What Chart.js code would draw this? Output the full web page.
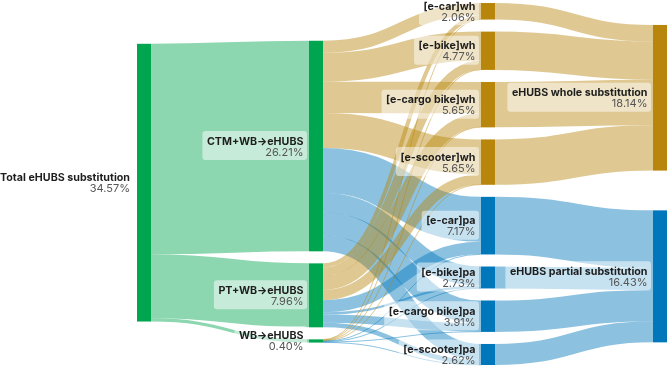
<!DOCTYPE html>
<html>
<head>
<meta charset="utf-8">
<script src="https://cdn.jsdelivr.net/npm/chart.js@4.4.1/dist/chart.umd.min.js"></script>
<style>
  html, body { margin: 0; padding: 0; background: #fff; }
  #wrap { width: 669px; height: 367px; }
</style>
</head>
<body>
<div id="wrap"><canvas id="chart"></canvas></div>
<script>
// nodes, listed column by column
const nodeNames = [
  "Total eHUBS substitution",
  "CTM+WB→eHUBS", "PT+WB→eHUBS", "WB→eHUBS",
  "[e-car]wh", "[e-bike]wh", "[e-cargo bike]wh", "[e-scooter]wh",
  "[e-car]pa", "[e-bike]pa", "[e-cargo bike]pa", "[e-scooter]pa",
  "eHUBS whole substitution", "eHUBS partial substitution"
];
const nodeShares = [34.57, 26.21, 7.96, 0.40, 2.06, 4.77, 5.65, 5.65, 7.17, 2.73, 3.91, 2.62, 18.14, 16.43];
const nodeColumn = [0, 1, 1, 1, 2, 2, 2, 2, 2, 2, 2, 2, 3, 3];
const nodeGroup = ["hub", "hub", "hub", "hub", "wh", "wh", "wh", "wh", "pa", "pa", "pa", "pa", "wh", "pa"];

// flows (% of all trips)
const totalToChannel = [26.21, 7.96, 0.40];
// order: e-car wh, e-bike wh, e-cargo wh, e-scooter wh, e-car pa, e-bike pa, e-cargo pa, e-scooter pa
const ctmToMode = [1.50, 3.60, 3.90, 4.35, 5.60, 2.40, 2.86, 2.00];
const ptToMode  = [0.51, 1.12, 1.70, 1.25, 1.52, 0.28, 1.00, 0.57];
const wbToMode  = [0.05, 0.05, 0.05, 0.05, 0.05, 0.05, 0.05, 0.05];
const modeToSubstitution = [2.06, 4.77, 5.65, 5.65, 7.17, 2.73, 3.91, 2.62];

// styling
const groupColor = { hub: [0, 165, 80], wh: [184, 134, 11], pa: [0, 119, 187] };
const linkAlpha = 0.45;
const nodeWidth = 14;
const nodePad = 1.5;      // gap between nodes, in value units
const iterations = 32;

// ---- sankey layout in value units: centre relaxation, nodes keep their order ----
function buildGraph() {
  const nodes = nodeNames.map((name, i) => ({
    index: i, name, share: nodeShares[i], layer: nodeColumn[i], group: nodeGroup[i],
    sourceLinks: [], targetLinks: []
  }));
  const links = [];
  const add = (s, t, v) => {
    const l = { source: nodes[s], target: nodes[t], value: v };
    links.push(l);
    nodes[s].sourceLinks.push(l);
    nodes[t].targetLinks.push(l);
  };
  totalToChannel.forEach((v, i) => add(0, 1 + i, v));
  [ctmToMode, ptToMode, wbToMode].forEach((row, i) => row.forEach((v, j) => add(1 + i, 4 + j, v)));
  modeToSubstitution.forEach((v, j) => add(4 + j, j < 4 ? 12 : 13, v));

  const sum = (arr, f) => arr.reduce((a, d) => a + f(d), 0);
  nodes.forEach(n => n.value = Math.max(sum(n.sourceLinks, l => l.value), sum(n.targetLinks, l => l.value)));

  const columns = [];
  nodes.forEach(n => (columns[n.layer] = columns[n.layer] || []).push(n));

  const pad = nodePad;
  const height = Math.max(...columns.map(c => sum(c, n => n.value) + (c.length - 1) * pad));
  const ky = Math.min(...columns.map(c => (height - (c.length - 1) * pad) / sum(c, n => n.value)));

  // start: each column spread evenly
  for (const col of columns) {
    let y = 0;
    for (const n of col) { n.dy = n.value * ky; n.y = y; y += n.dy + pad; }
    const extra = (height - y + pad) / (col.length + 1);
    col.forEach((n, i) => n.y += extra * (i + 1));
  }
  links.forEach(l => l.dy = l.value * ky);

  const center = n => n.y + n.dy / 2;

  // weighted isotonic fit: nodes move as little as possible, keep order and spacing
  function resolveCollisions(col) {
    let off = 0;
    const blocks = [];
    for (const n of col) {
      blocks.push({ v: n.y - off, w: n.value, count: 1 });
      n.off = off;
      off += n.dy + pad;
      while (blocks.length > 1 && blocks[blocks.length - 2].v > blocks[blocks.length - 1].v) {
        const b = blocks.pop(), a = blocks.pop();
        blocks.push({ v: (a.v * a.w + b.v * b.w) / (a.w + b.w), w: a.w + b.w, count: a.count + b.count });
      }
    }
    let i = 0;
    for (const b of blocks) for (let k = 0; k < b.count; k++, i++) col[i].y = b.v + col[i].off;
    // keep inside the plot
    let y0 = 0;
    for (const n of col) { if (n.y < y0) n.y = y0; y0 = n.y + n.dy + pad; }
    let y1 = height;
    for (let k = col.length - 1; k >= 0; k--) {
      const n = col[k];
      if (n.y + n.dy > y1) n.y = y1 - n.dy;
      y1 = n.y - pad;
    }
  }

  for (let it = 0; it < iterations; ++it) {
    const alpha = Math.pow(0.99, it);
    for (let c = columns.length - 2; c >= 0; --c) {
      for (const n of columns[c]) {
        if (!n.sourceLinks.length) continue;
        const y = sum(n.sourceLinks, l => center(l.target) * l.value) / sum(n.sourceLinks, l => l.value);
        n.y += (y - center(n)) * alpha;
      }
      resolveCollisions(columns[c]);
    }
    for (let c = 1; c < columns.length; ++c) {
      for (const n of columns[c]) {
        if (!n.targetLinks.length) continue;
        const y = sum(n.targetLinks, l => center(l.source) * l.value) / sum(n.targetLinks, l => l.value);
        n.y += (y - center(n)) * alpha;
      }
      resolveCollisions(columns[c]);
    }
  }

  // link positions along each node, ordered by the node at the other end
  for (const n of nodes) {
    n.sourceLinks.sort((a, b) => a.target.y - b.target.y);
    n.targetLinks.sort((a, b) => a.source.y - b.source.y);
    let a = n.y, b = n.y;
    for (const l of n.sourceLinks) { l.y0 = a + l.dy / 2; a += l.dy; }
    for (const l of n.targetLinks) { l.y1 = b + l.dy / 2; b += l.dy; }
  }
  return { nodes, links, yMax: height, layers: columns.length };
}

const graph = buildGraph();

const rgba = (c, a) => `rgba(${c[0]},${c[1]},${c[2]},${a})`;

function roundRect(ctx, x, y, w, h, r) {
  ctx.beginPath();
  ctx.moveTo(x + r, y);
  ctx.arcTo(x + w, y, x + w, y + h, r);
  ctx.arcTo(x + w, y + h, x, y + h, r);
  ctx.arcTo(x, y + h, x, y, r);
  ctx.arcTo(x, y, x + w, y, r);
  ctx.closePath();
}

const sankeyPlugin = {
  id: 'sankey',
  afterDatasetsDraw(chart) {
    const { ctx, scales: { x, y } } = chart;
    ctx.save();

    // links
    for (const l of graph.links) {
      const xs = x.getPixelForValue(l.source.layer) + nodeWidth;
      const xt = x.getPixelForValue(l.target.layer);
      const ys = y.getPixelForValue(l.y0);
      const yt = y.getPixelForValue(l.y1);
      const w = Math.abs(y.getPixelForValue(l.dy) - y.getPixelForValue(0));
      const xm = (xs + xt) / 2;
      ctx.beginPath();
      ctx.moveTo(xs, ys);
      ctx.bezierCurveTo(xm, ys, xm, yt, xt, yt);
      ctx.lineWidth = Math.max(1, w);
      ctx.strokeStyle = rgba(groupColor[l.target.group], linkAlpha);
      ctx.stroke();
    }

    // nodes
    for (const n of graph.nodes) {
      const x0 = x.getPixelForValue(n.layer);
      const top = y.getPixelForValue(n.y);
      const bot = y.getPixelForValue(n.y + n.dy);
      ctx.fillStyle = rgba(groupColor[n.group], 1);
      ctx.fillRect(x0, top, nodeWidth, Math.max(1, bot - top));
    }

    // labels: left of every node, right aligned
    const nameFont = "bold 10.7px Inter, 'Noto Sans', sans-serif";
    const pctFont = "11px Inter, 'Noto Sans', sans-serif";
    for (const n of graph.nodes) {
      const x0 = x.getPixelForValue(n.layer);
      const cy = (y.getPixelForValue(n.y) + y.getPixelForValue(n.y + n.dy)) / 2;
      const pct = n.share.toFixed(2) + "%";
      const right = x0 - (n.layer === 0 ? 7 : 5.5);
      ctx.font = nameFont;
      const w1 = ctx.measureText(n.name).width;
      ctx.font = pctFont;
      const w2 = ctx.measureText(pct).width;
      const bw = Math.max(w1, w2) + 8;
      ctx.fillStyle = "rgba(255,255,255,0.5)";
      roundRect(ctx, right - bw + 3.5, cy - 15, bw, 29, 3);
      ctx.fill();
      ctx.textAlign = "right";
      ctx.textBaseline = "alphabetic";
      ctx.font = nameFont;
      ctx.fillStyle = "#1e1e1e";
      ctx.fillText(n.name, right, cy - 1.5);
      ctx.font = pctFont;
      ctx.fillStyle = "#555";
      ctx.fillText(pct, right, cy + 9.5);
    }
    ctx.restore();
  }
};

new Chart(document.getElementById('chart'), {
  type: 'scatter',
  data: { datasets: [] },
  options: {
    responsive: true,
    maintainAspectRatio: false,
    animation: false,
    layout: { padding: { left: 137, right: 669 - 653, top: 3, bottom: 2 } },
    plugins: { legend: { display: false }, tooltip: { enabled: false } },
    scales: {
      x: { type: 'linear', display: false, min: 0, max: graph.layers - 1 },
      y: { type: 'linear', display: false, min: 0, max: graph.yMax, reverse: true }
    }
  },
  plugins: [sankeyPlugin]
});
</script>
</body>
</html>
